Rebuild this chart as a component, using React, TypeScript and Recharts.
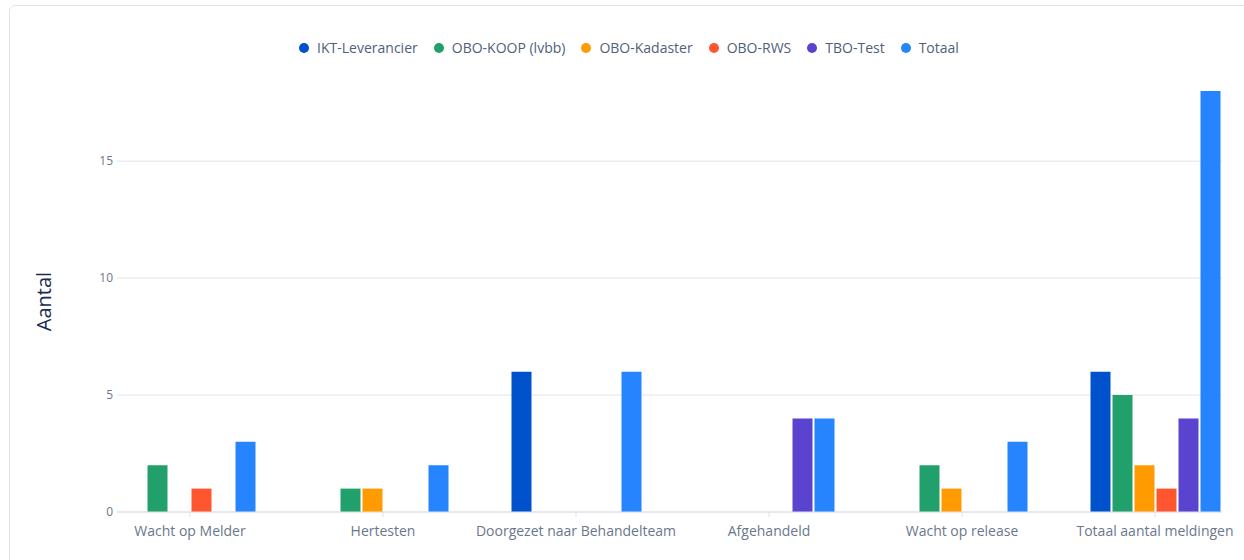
import { BarChart, Bar, XAxis, YAxis, CartesianGrid, Legend } from "recharts"

const categories = [
  "Wacht op Melder",
  "Hertesten",
  "Doorgezet naar Behandelteam",
  "Afgehandeld",
  "Wacht op release",
  "Totaal aantal meldingen",
]
const iktLeverancier = [0, 0, 6, 0, 0, 6]
const oboKoop = [2, 1, 0, 0, 2, 5]
const oboKadaster = [0, 1, 0, 0, 1, 2]
const oboRws = [1, 0, 0, 0, 0, 1]
const tboTest = [0, 0, 0, 4, 0, 4]
const totaal = [3, 2, 6, 4, 3, 18]
const yTicks = [0, 5, 10, 15]

const series = [
  { key: "ikt", name: "IKT-Leverancier", color: "#0052CC", values: iktLeverancier },
  { key: "koop", name: "OBO-KOOP (lvbb)", color: "#22A06B", values: oboKoop },
  { key: "kadaster", name: "OBO-Kadaster", color: "#FF9A00", values: oboKadaster },
  { key: "rws", name: "OBO-RWS", color: "#FF5630", values: oboRws },
  { key: "tbo", name: "TBO-Test", color: "#5A43CF", values: tboTest },
  { key: "totaal", name: "Totaal", color: "#2684FF", values: totaal },
]

const data = categories.map((name, i) => {
  const row: Record<string, string | number> = { name }
  series.forEach((s) => (row[s.key] = s.values[i]))
  return row
})

const FONT = "'Open Sans', 'Noto Sans', sans-serif"

function LegendRow() {
  return (
    <div style={{ display: "flex", justifyContent: "center", gap: 16, height: 20, lineHeight: "20px", marginLeft: 36, fontFamily: FONT, fontSize: 14, color: "#505F79" }}>
      {series.map((s) => (
        <div key={s.key} style={{ display: "flex", alignItems: "center" }}>
          <span style={{ width: 10, height: 10, borderRadius: 5, background: s.color, marginRight: 8, display: "inline-block" }} />
          {s.name}
        </div>
      ))}
    </div>
  )
}

function AxisTitle({ viewBox }: any) {
  const cx = viewBox.x + 43
  const cy = viewBox.y + viewBox.height / 2
  return (
    <text x={cx} y={cy} transform={`rotate(-90 ${cx} ${cy})`} textAnchor="middle" dominantBaseline="central"
      style={{ fontFamily: FONT, fontSize: 20, fill: "#172B4D" }}>
      Aantal
    </text>
  )
}

export default function App() {
  return (
    <div style={{ position: "absolute", left: 0, top: 0, width: 1244, height: 560, overflow: "hidden", background: "#fff" }}>
      <div style={{ position: "absolute", left: 9, top: 5, width: 1260, height: 600, border: "1px solid #e3e3e3", borderRadius: 6, boxSizing: "border-box" }} />
      <BarChart width={1244} height={560} data={data} margin={{ top: 71, right: 22, left: 0, bottom: 18 }}
        barSize={20} barGap={2} style={{ position: "absolute", left: 0, top: 0 }}>
        <CartesianGrid vertical={false} stroke="#e1e3e8" horizontalValues={yTicks} />
        <Legend verticalAlign="top" content={<LegendRow />} wrapperStyle={{ top: 38 }} />
        <XAxis dataKey="name" interval={0} padding={{ left: -23.5, right: -29.5 }} height={30}
          axisLine={{ stroke: "#dfe1e6" }} tickLine={{ stroke: "#dfe1e6" }} tickSize={5} tickMargin={9}
          tick={{ fontFamily: FONT, fontSize: 14, fill: "#6B778C" }} />
        <YAxis width={117} domain={[0, 18]} ticks={yTicks} axisLine={false} tickLine={false} tickSize={4} tickMargin={0}
          tick={{ fontFamily: FONT, fontSize: 12, fill: "#6B778C" }} label={<AxisTitle />} />
        {series.map((s) => (
          <Bar key={s.key} dataKey={s.key} name={s.name} fill={s.color} isAnimationActive={false} />
        ))}
      </BarChart>
    </div>
  )
}
